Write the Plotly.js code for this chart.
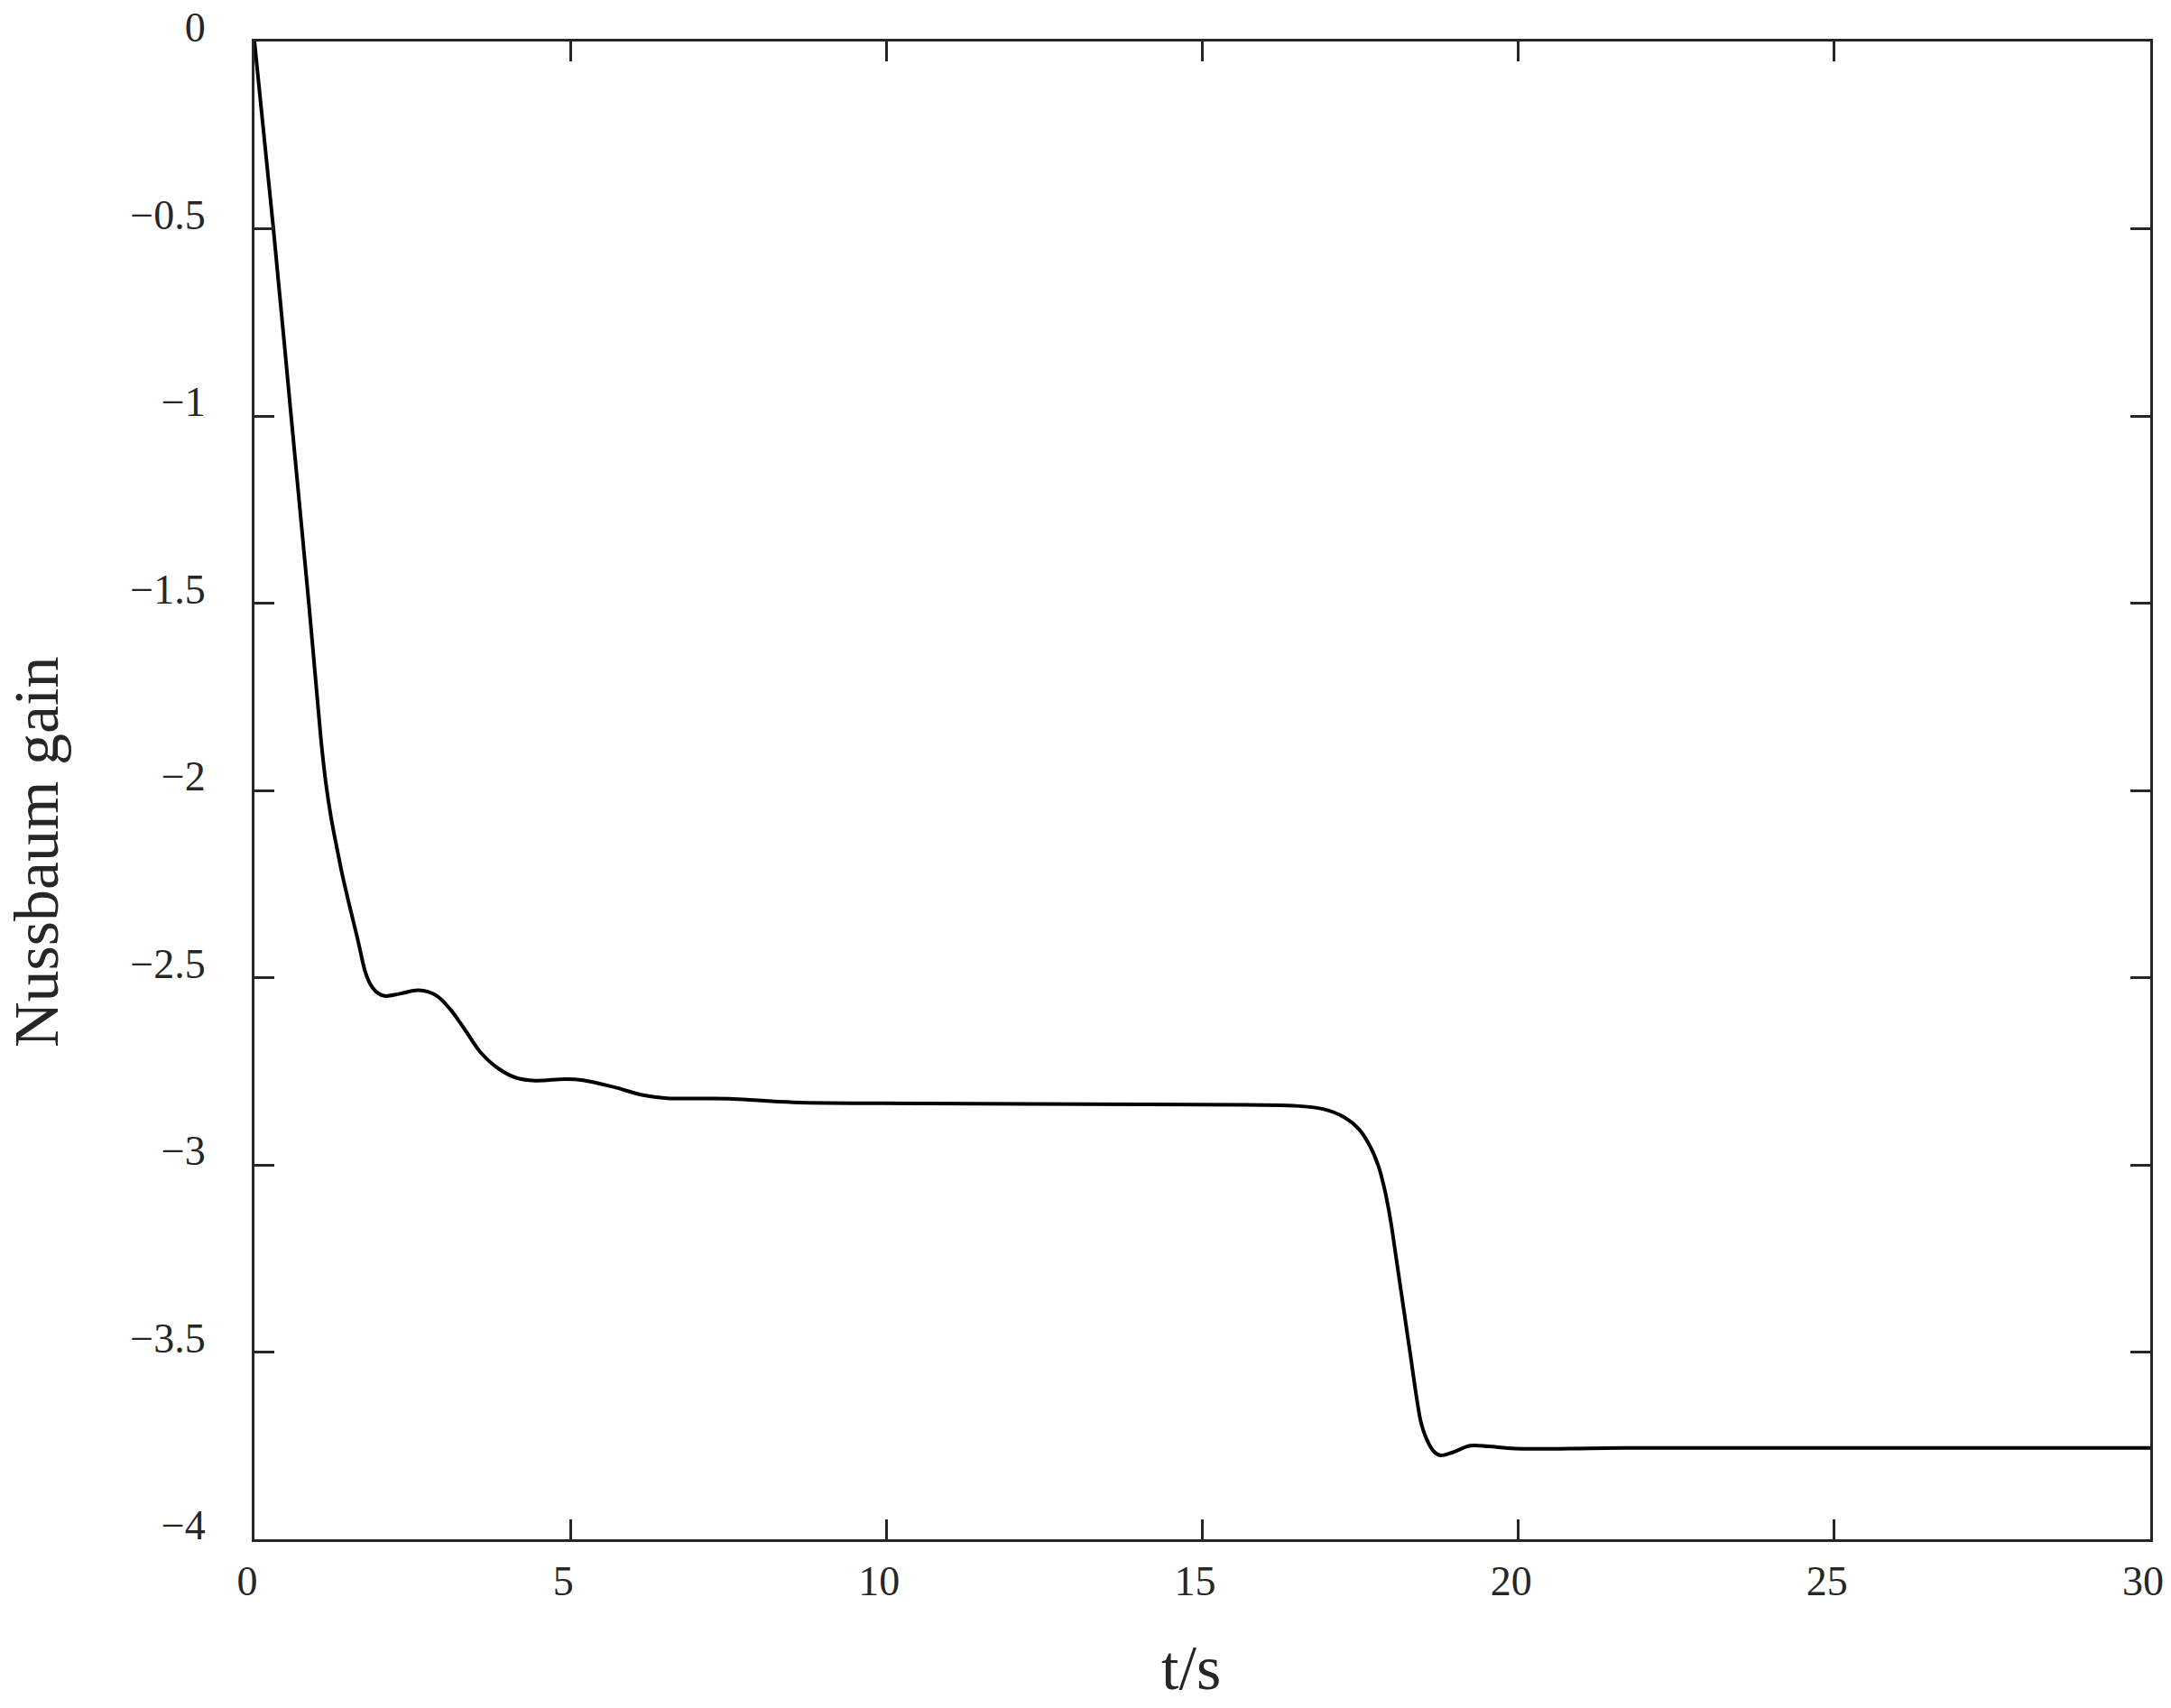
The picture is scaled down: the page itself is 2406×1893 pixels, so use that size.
<!DOCTYPE html>
<html>
<head>
<meta charset="utf-8">
<script src="https://cdn.plot.ly/plotly-3.0.1.min.js"></script>
<style>html,body{margin:0;padding:0;background:#fff;}</style>
</head>
<body>
<div id="chart" style="width:2406px;height:1893px;"></div>
<script>
const timeS = [0, 0.30, 0.58, 0.86, 1.05, 1.13, 1.21, 1.30, 1.39, 1.49, 1.63, 1.75, 1.81, 1.87, 1.95, 2.06, 2.30, 2.60, 2.87, 3.11, 3.35, 3.58, 3.87, 4.15, 4.44, 4.92, 5.20, 5.68, 6.15, 6.53, 7.10, 7.58, 8.53, 10.58, 13.13, 15.67, 16.44, 16.91, 17.245, 17.48, 17.65, 17.79, 17.89, 17.98, 18.07, 18.18, 18.29, 18.40, 18.46, 18.55, 18.66, 18.77, 18.96, 19.24, 19.53, 19.96, 21.67, 30];
const nussbaumGain = [0, -0.5, -1.0, -1.5, -1.86, -1.98, -2.07, -2.15, -2.225, -2.298, -2.395, -2.483, -2.510, -2.527, -2.541, -2.549, -2.543, -2.534, -2.547, -2.587, -2.644, -2.70, -2.744, -2.768, -2.775, -2.771, -2.774, -2.792, -2.814, -2.822, -2.823, -2.824, -2.833, -2.836, -2.838, -2.840, -2.842, -2.851, -2.873, -2.905, -2.949, -3.005, -3.07, -3.15, -3.252, -3.378, -3.505, -3.632, -3.688, -3.733, -3.765, -3.776, -3.768, -3.750, -3.752, -3.758, -3.756, -3.756];
const xTicks = [0, 5, 10, 15, 20, 25, 30];
const yTicks = [0, -0.5, -1, -1.5, -2, -2.5, -3, -3.5, -4];

const axisColor = '#262626';
const fontFam = '"Liberation Serif", "Times New Roman", serif';

const trace = {
  x: timeS, y: nussbaumGain, type: 'scatter', mode: 'lines',
  line: {color: '#000', width: 4, shape: 'spline', smoothing: 1.0},
  hoverinfo: 'skip'
};

const common = {
  showline: true, mirror: 'ticks', linecolor: axisColor, linewidth: 3,
  ticks: 'inside', ticklen: 22, tickwidth: 3, tickcolor: axisColor,
  showgrid: false, zeroline: false, automargin: false,
  tickfont: {family: fontFam, size: 46, color: axisColor}
};

const layout = {
  width: 2406, height: 1893,
  margin: {l: 282, r: 23, t: 46, b: 187},
  paper_bgcolor: '#fff', plot_bgcolor: '#fff',
  showlegend: false,
  xaxis: Object.assign({}, common, {
    range: [0, 30], tickvals: xTicks, ticktext: xTicks.map(String),
    ticklabelstandoff: 4, ticklabelshift: -8
  }),
  yaxis: Object.assign({}, common, {
    range: [-4, 0], tickvals: yTicks,
    ticktext: yTicks.map(v => v < 0 ? '\u2212' + String(Math.abs(v)) : String(v)),
    ticklabelstandoff: 42, ticklabelshift: -16
  }),
  annotations: [{
    text: 'Nussbaum gain', textangle: -90, showarrow: false,
    xref: 'paper', yref: 'paper', x: -0.1152, y: 0.459,
    xanchor: 'center', yanchor: 'middle',
    font: {family: fontFam, size: 70, color: axisColor}
  }, {
    text: 't/s', showarrow: false,
    xref: 'paper', yref: 'paper', x: (1320 - 282) / 2101, y: -(1848 - 1706) / 1660,
    xanchor: 'center', yanchor: 'middle',
    font: {family: fontFam, size: 70, color: axisColor}
  }]
};

Plotly.newPlot('chart', [trace], layout, {displayModeBar: false, staticPlot: true});
</script>
</body>
</html>
